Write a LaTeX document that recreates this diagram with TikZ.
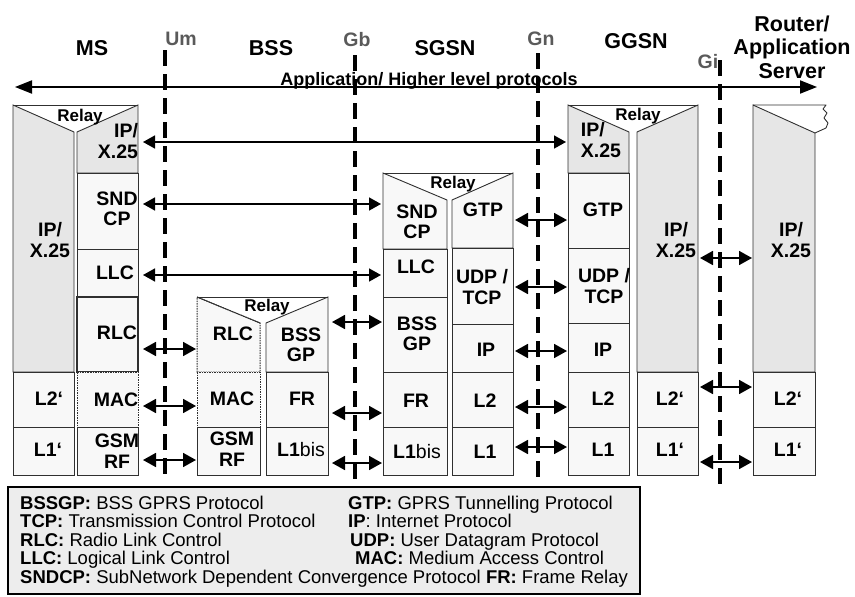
\documentclass[tikz,border=0pt]{standalone}
\usepackage{fontspec}
\setmainfont{Liberation Sans}
\usetikzlibrary{arrows.meta}
\definecolor{cgray}{HTML}{E6E6E6}
\definecolor{clight}{HTML}{F8F8F8}
\definecolor{cleg}{HTML}{EDEDED}
\definecolor{cbord}{HTML}{303030}
\definecolor{cif}{HTML}{5A5A5A}
\begin{document}
\begin{tikzpicture}[x=1pt,y=-1pt,
  gcell/.style={fill=cgray,draw=cbord,line width=0.9pt},
  lcell/.style={fill=clight,draw=cbord,line width=0.9pt},
  dcell/.style={fill=clight,draw=cbord,line width=1pt,dash pattern=on 1.5pt off 1pt},
  bord/.style={draw=cbord,line width=0.9pt},
  lbl/.style={font=\bfseries\fontsize{19.5}{20.5}\selectfont,align=center,inner sep=0pt},
  relay/.style={font=\bfseries\fontsize{17}{18}\selectfont,inner sep=0pt},
  head/.style={font=\bfseries\fontsize{21.5}{23.5}\selectfont,align=center,inner sep=0pt},
  iface/.style={font=\bfseries\fontsize{19.5}{20}\selectfont,text=cif,inner sep=0pt},
  ifline/.style={line width=4pt,dash pattern=on 16pt off 8pt},
  biarr/.style={line width=1.8pt,{Triangle[length=13pt,width=14pt]}-{Triangle[length=13pt,width=14pt]}},
  longarr/.style={line width=1.6pt,{Triangle[length=12pt,width=13pt]}-{Triangle[length=12pt,width=13pt]}},
  mainarr/.style={line width=2pt,{Triangle[length=17pt,width=13pt]}-{Triangle[length=17pt,width=13pt]}},
  legtxt/.style={font=\fontsize{18.5}{18.5}\selectfont,anchor=base west,inner sep=0pt}
]
\useasboundingbox (0,0) rectangle (855,597);

% ---------- headings ----------
\node[head] (hms) at (92,48) {MS};
\node[head] (hbss) at (271,48) {BSS};
\node[head] (hsgsn) at (445,48) {SGSN};
\node[head] (hggsn) at (636,41) {GGSN};
\node[head] (hrouter) at (792,47) {Router/\\Application\\Server};
\node[iface] (ium) at (181,39) {Um};
\node[iface] (igb) at (357,40) {Gb};
\node[iface] (ign) at (541,39) {Gn};
\node[iface] (igi) at (708,62) {Gi};

% ---------- main arrow ----------
\coordinate (mainL) at (15,87);
\coordinate (mainR) at (817,87);
\draw[mainarr] (mainL) -- (mainR);
\node[font=\bfseries\fontsize{18}{20}\selectfont,anchor=base,inner sep=0pt] (apptxt) at (429,85) {Application/ Higher level protocols};

% ---------- MS ----------
\path[gcell] (13,105) -- (74,132) -- (74,372) -- (13,372) -- cycle;
\path[lcell] (13,372) rectangle (74,427);
\path[lcell] (13,427) rectangle (74,475);
\path[gcell] (77,132) -- (138,105) -- (138,173) -- (77,173) -- cycle;
\path[lcell] (77,173) rectangle (138,249);
\path[lcell] (77,249) rectangle (138,297);
\path[lcell,line width=1.8pt] (77,297) rectangle (138,372);
\path[dcell] (77,372) rectangle (138,427);
\path[lcell] (77,427) rectangle (138,475);
\draw[bord] (13,105) -- (138,105);
\node[relay] (msrelay) at (80,117) {Relay};
\node[lbl] (msip) at (50,240) {IP/\\X.25};
\node[lbl] (msl2) at (49,399) {L2‘};
\node[lbl] (msl1) at (48,450) {L1‘};
\node[lbl,align=right] (msipr) at (118,141) {IP/\\X.25};
\node[lbl] (mssndcp) at (117,209) {SND\\CP};
\node[lbl] (msllc) at (115,273) {LLC};
\node[lbl] (msrlc) at (117,333) {RLC};
\node[lbl] (msmac) at (116,400) {MAC};
\node[lbl] (msrf) at (117,451) {GSM\\RF};

% ---------- BSS ----------
\path[dcell] (197,297) -- (260,323) -- (260,372) -- (197,372) -- cycle;
\path[dcell] (197,372) rectangle (260,427);
\path[lcell] (197,427) rectangle (260,475);
\path[lcell] (266,323) -- (328,297) -- (328,372) -- (266,372) -- cycle;
\path[lcell] (266,372) rectangle (328,427);
\path[lcell] (266,427) rectangle (328,475);
\draw[bord] (197,297) -- (328,297);
\draw[bord] (197,297) -- (260,323);
\node[relay] (bssrelay) at (267,307) {Relay};
\node[lbl] (bssrlc) at (233,334) {RLC};
\node[lbl] (bssmac) at (232,399) {MAC};
\node[lbl] (bssrf) at (232,449) {GSM\\RF};
\node[lbl] (bssgp) at (301,345) {BSS\\GP};
\node[lbl] (bssfr) at (302,399) {FR};
\node[lbl] (bssl1) at (301,450) {L1{\mdseries bis}};

% ---------- SGSN ----------
\path[lcell] (383,173) -- (447,200) -- (447,249) -- (383,249) -- cycle;
\path[lcell] (383,249) rectangle (447,297);
\path[lcell] (383,297) rectangle (447,372);
\path[lcell] (383,372) rectangle (447,427);
\path[lcell] (383,427) rectangle (447,475);
\path[lcell] (452,200) -- (513,173) -- (513,248) -- (452,248) -- cycle;
\path[lcell] (452,248) rectangle (513,324);
\path[lcell] (452,324) rectangle (513,372);
\path[lcell] (452,372) rectangle (513,427);
\path[lcell] (452,427) rectangle (513,475);
\draw[bord] (383,173) -- (513,173);
\node[relay] (sgrelay) at (453,184) {Relay};
\node[lbl] (sgsndcp) at (417,222) {SND\\CP};
\node[lbl] (sgllc) at (416,267) {LLC};
\node[lbl] (sgbssgp) at (417,334) {BSS\\GP};
\node[lbl] (sgfr) at (416,401) {FR};
\node[lbl] (sgl1bis) at (417,452) {L1{\mdseries bis}};
\node[lbl] (sggtp) at (483,210) {GTP};
\node[lbl] (sgudp) at (482,287) {UDP /\\TCP};
\node[lbl] (sgip) at (486,350) {IP};
\node[lbl] (sgl2) at (485,401) {L2};
\node[lbl] (sgl1) at (485,452) {L1};

% ---------- GGSN ----------
\path[gcell] (568,105) -- (629,132) -- (629,173) -- (568,173) -- cycle;
\path[lcell] (568,173) rectangle (629,248);
\path[lcell] (568,248) rectangle (629,323);
\path[lcell] (568,323) rectangle (629,372);
\path[lcell] (568,372) rectangle (629,427);
\path[lcell] (568,427) rectangle (629,475);
\path[gcell] (637,132) -- (698,105) -- (698,372) -- (637,372) -- cycle;
\path[lcell] (637,372) rectangle (698,427);
\path[lcell] (637,427) rectangle (698,475);
\draw[bord] (568,105) -- (698,105);
\node[relay] (ggrelay) at (638,116) {Relay};
\node[lbl,align=left] (ggip) at (601,140) {IP/\\X.25};
\node[lbl] (gggtp) at (603,210) {GTP};
\node[lbl] (ggudp) at (604,286) {UDP /\\TCP};
\node[lbl] (ggipb) at (603,350) {IP};
\node[lbl] (ggl2) at (603,399) {L2};
\node[lbl] (ggl1) at (603,450) {L1};
\node[lbl] (ggipr) at (676,240) {IP/\\X.25};
\node[lbl] (ggl2r) at (670,399) {L2‘};
\node[lbl] (ggl1r) at (670,450) {L1‘};

% ---------- Router ----------
\path[gcell] (753,105) -- (815,133) -- (815,372) -- (753,372) -- cycle;
\path[lcell] (753,372) rectangle (815,427);
\path[lcell] (753,427) rectangle (815,475);
\draw[bord,line join=round] (753,105) -- (826,105) -- (823,109) -- (827,113) -- (824,118) -- (828,123) -- (826,128) -- (815,133);
\node[lbl] (rtip) at (791,240) {IP/\\X.25};
\node[lbl] (rtl2) at (788,399) {L2‘};
\node[lbl] (rtl1) at (788,450) {L1‘};

% ---------- long arrows ----------
\coordinate (la1) at (143,142); \coordinate (lb1) at (566,142);
\coordinate (la2) at (143,204); \coordinate (lb2) at (381,204);
\coordinate (la3) at (143,275); \coordinate (lb3) at (381,275);
\draw[longarr] (la1) -- (lb1);
\draw[longarr] (la2) -- (lb2);
\draw[longarr] (la3) -- (lb3);

% ---------- short arrows ----------
\foreach \y [count=\i] in {349,406,460}{
  \coordinate (uma\i) at (143,\y); \coordinate (umb\i) at (196,\y);
  \draw[biarr] (uma\i) -- (umb\i);}
\foreach \y [count=\i] in {322,413,463}{
  \coordinate (gba\i) at (332,\y); \coordinate (gbb\i) at (382,\y);
  \draw[biarr] (gba\i) -- (gbb\i);}
\foreach \y [count=\i] in {220,287,351,407,447}{
  \coordinate (gna\i) at (515,\y); \coordinate (gnb\i) at (567,\y);
  \draw[biarr] (gna\i) -- (gnb\i);}
\foreach \y [count=\i] in {258,387,462}{
  \coordinate (gia\i) at (700,\y); \coordinate (gib\i) at (752,\y);
  \draw[biarr] (gia\i) -- (gib\i);}

% ---------- interface lines ----------
\coordinate (umt) at (165,50); \coordinate (umbt) at (165,477);
\coordinate (gbt) at (355,55); \coordinate (gbbt) at (355,480);
\coordinate (gnt) at (538,53); \coordinate (gnbt) at (538,478);
\coordinate (git) at (720,60); \coordinate (gibt) at (720,488);
\draw[ifline] (umt) -- (umbt);
\draw[ifline] (gbt) -- (gbbt);
\draw[ifline] (gnt) -- (gnbt);
\draw[ifline] (git) -- (gibt);

% ---------- legend ----------
\node[draw=black,line width=1.5pt,fill=cleg,anchor=north west,minimum width=632pt,minimum height=107pt,inner sep=0pt] (legend) at (7,486) {};
\node[legtxt] (lg1a) at (20,509) {\textbf{BSSGP:} BSS GPRS Protocol};
\node[legtxt] (lg2a) at (20,527.5) {\textbf{TCP:} Transmission Control Protocol};
\node[legtxt] (lg3a) at (20,546) {\textbf{RLC:} Radio Link Control};
\node[legtxt] (lg4a) at (20,564.5) {\textbf{LLC:} Logical Link Control};
\node[legtxt] (lg5a) at (20,583) {\textbf{SNDCP:} SubNetwork Dependent Convergence Protocol \textbf{FR:} Frame Relay};
\node[legtxt] (lg1b) at (348,509) {\textbf{GTP:} GPRS Tunnelling Protocol};
\node[legtxt] (lg2b) at (348,527.5) {\textbf{IP}: Internet Protocol};
\node[legtxt] (lg3b) at (350,546) {\textbf{UDP:} User Datagram Protocol};
\node[legtxt] (lg4b) at (355,564.5) {\textbf{MAC:} Medium Access Control};
\end{tikzpicture}
\end{document}
